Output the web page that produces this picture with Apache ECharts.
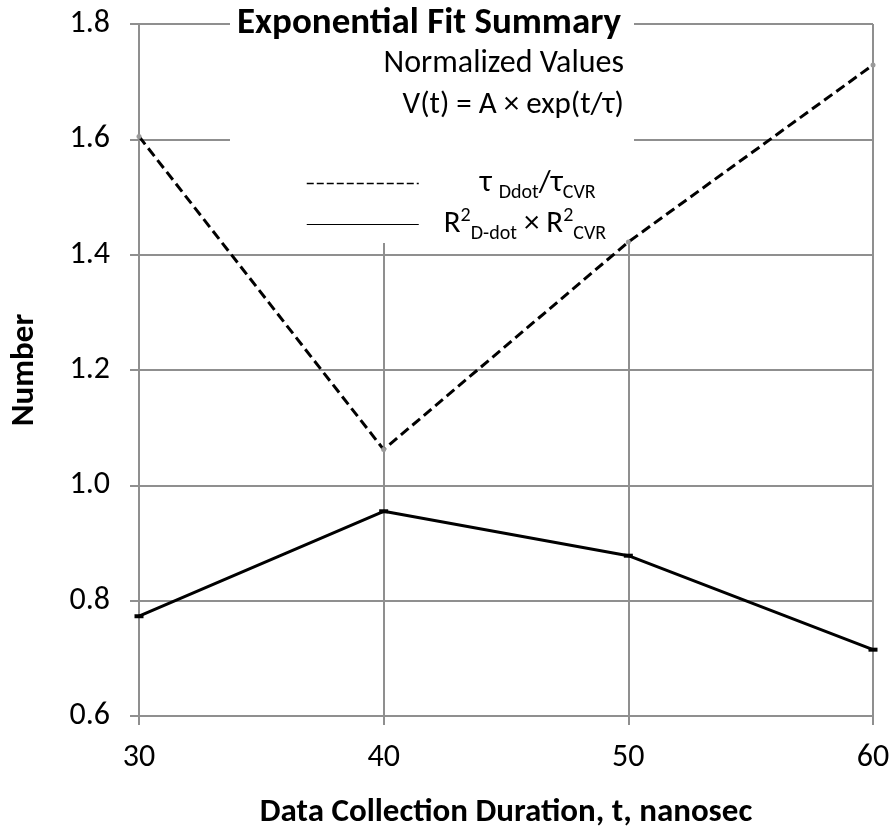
<!DOCTYPE html>
<html>
<head>
<meta charset="utf-8">
<script src="https://cdn.jsdelivr.net/npm/echarts@6/dist/echarts.min.js"></script>
<style>
  html, body { margin: 0; padding: 0; background: #fff; }
  #expFitChart { width: 891px; height: 827px; }
</style>
</head>
<body>
<div id="expFitChart"></div>
<script>
// duration (ns) on x, normalized numbers on y
const durations = [30, 40, 50, 60];
const tauRatio = [1.605, 1.062, 1.422, 1.729];
const r2Product = [0.773, 0.955, 0.878, 0.715];
const xTicks = [30, 40, 50, 60];
const yTicks = [0.6, 0.8, 1.0, 1.2, 1.4, 1.6, 1.8];

const FONT = 'Carlito, Lato, sans-serif';
const gridColor = '#8f8f8f';

const legendLabels = {
  tau: '{gapA|}{m|τ }{sub|Ddot}{m|/τ}{sub|CVR}',
  r2: '{gapB|}{m|R}{sup|2}{sub|D-dot}{m| × R}{sup|2}{sub|CVR}'
};

const chart = echarts.init(document.getElementById('expFitChart'));

const option = {
  animation: false,
  backgroundColor: '#fff',
  textStyle: { fontFamily: FONT },
  title: {
    text: 'Exponential Fit Summary',
    left: 237,
    top: 5,
    padding: 0,
    textStyle: { fontFamily: FONT, fontSize: 37, fontWeight: 'bold', color: '#000' }
  },
  grid: { left: 139, right: 18, top: 24, bottom: 111, outerBoundsMode: 'none' },
  legend: {
    orient: 'vertical',
    left: 301,
    top: 163,
    itemWidth: 112,
    itemHeight: 14,
    itemGap: 3,
    itemStyle: { opacity: 0 },
    data: [
      { name: 'tau', lineStyle: { width: 1.5, type: [7, 3], color: '#000' } },
      { name: 'r2', lineStyle: { width: 1.2, color: '#000' } }
    ],
    formatter: name => legendLabels[name],
    textStyle: {
      color: '#000',
      rich: {
        gapA: { width: 56 },
        gapB: { width: 20 },
        m: { fontFamily: FONT, fontSize: 31, lineHeight: 38, color: '#000' },
        sub: { fontFamily: FONT, fontSize: 20, lineHeight: 26, verticalAlign: 'bottom', color: '#000' },
        sup: { fontFamily: FONT, fontSize: 20, lineHeight: 20, verticalAlign: 'top', color: '#000' }
      }
    }
  },
  xAxis: {
    type: 'value',
    min: xTicks[0],
    max: xTicks[xTicks.length - 1],
    interval: xTicks[1] - xTicks[0],
    name: 'Data Collection Duration, t, nanosec',
    nameLocation: 'middle',
    nameGap: 80,
    nameTextStyle: { fontFamily: FONT, fontSize: 33, fontWeight: 'bold', color: '#000' },
    axisLine: { lineStyle: { color: gridColor, width: 2 } },
    axisTick: { length: 9, lineStyle: { color: gridColor, width: 2 } },
    axisLabel: { fontFamily: FONT, fontSize: 32, color: '#000', margin: 26 },
    splitLine: { lineStyle: { color: gridColor, width: 2 } }
  },
  yAxis: {
    type: 'value',
    min: yTicks[0],
    max: yTicks[yTicks.length - 1],
    interval: 0.2,
    name: 'Number',
    nameLocation: 'middle',
    nameGap: 98,
    nameTextStyle: { fontFamily: FONT, fontSize: 33, fontWeight: 'bold', color: '#000' },
    axisLine: { show: true, lineStyle: { color: gridColor, width: 2 } },
    axisTick: { show: true, length: 9, lineStyle: { color: gridColor, width: 2 } },
    axisLabel: {
      fontFamily: FONT, fontSize: 32, color: '#000', margin: 29,
      formatter: v => v.toFixed(1)
    },
    splitLine: { lineStyle: { color: gridColor, width: 2 } }
  },
  graphic: [
    {
      type: 'rect',
      z: 1,
      shape: { x: 230, y: 0, width: 404, height: 243 },
      style: { fill: '#fff' }
    },
    {
      type: 'text',
      z: 5,
      x: 624,
      y: 64,
      style: {
        text: 'Normalized Values', fontFamily: FONT, fontSize: 32, fill: '#000',
        align: 'right', verticalAlign: 'middle'
      }
    },
    {
      type: 'text',
      z: 5,
      x: 624,
      y: 105,
      style: {
        text: 'V(t) = A × exp(t/τ)', fontFamily: FONT, fontSize: 31, fill: '#000',
        align: 'right', verticalAlign: 'middle'
      }
    }
  ],
  series: [
    {
      name: 'tau',
      type: 'line',
      clip: false,
      data: durations.map((d, i) => [d, tauRatio[i]]),
      symbol: 'circle',
      symbolSize: 5,
      itemStyle: { color: '#9a9a9a' },
      lineStyle: { color: '#000', width: 3, type: [10, 5] }
    },
    {
      name: 'r2',
      type: 'line',
      clip: false,
      data: durations.map((d, i) => [d, r2Product[i]]),
      symbol: 'rect',
      symbolSize: [9, 4],
      itemStyle: { color: '#000' },
      lineStyle: { color: '#000', width: 3 }
    }
  ]
};

chart.setOption(option);
</script>
</body>
</html>
